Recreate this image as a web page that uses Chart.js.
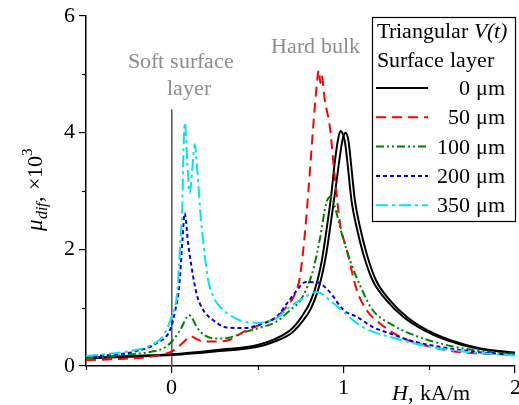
<!DOCTYPE html>
<html>
<head>
<meta charset="utf-8">
<script src="https://cdn.jsdelivr.net/npm/chart.js@4.4.1/dist/chart.umd.min.js"></script>
<style>
  @font-face { font-family: 'PlotSerif'; font-style: normal; src: local('Liberation Serif'), local('LiberationSerif'), local('Liberation Serif Regular'); }
  @font-face { font-family: 'PlotSerif'; font-style: italic; src: local('Liberation Serif Italic'), local('LiberationSerif-Italic'); }
  html, body { margin: 0; padding: 0; background: #fff; }
  #wrap { width: 519px; height: 405px; }
  .warm { font-family: 'PlotSerif', 'Liberation Serif'; position: absolute; left: -999px; top: 0; }
</style>
</head>
<body>
<span class="warm">Hard bulk μ</span><span class="warm" style="font-style:italic">V(t) H μ</span>
<div id="wrap"><canvas id="chart" width="519" height="405"></canvas></div>
<script>
// axis ticks
const xTicks = [0, 1, 2];
const xTickLabels = ['0', '1', '2'];
const xMinorTicks = [-0.5, 0.5, 1.5];
const yTicks = [0, 2, 4, 6];
const yTickLabels = ['0', '2', '4', '6'];
const yMinorTicks = [1, 3, 5];

// 0 um - two branches of the loop
const hBlackA = [-0.5, -0.25, 0, 0.25, 0.5, 0.6, 0.7, 0.76, 0.81, 0.85, 0.875, 0.9, 0.93, 0.95, 0.97, 0.983, 1.0, 1.01, 1.025, 1.047, 1.076, 1.115, 1.17, 1.25, 1.35, 1.465, 1.6, 1.78, 2.0];
const muBlackA = [0.14, 0.17, 0.2, 0.27, 0.36, 0.46, 0.64, 0.86, 1.12, 1.48, 1.82, 2.3, 2.95, 3.5, 3.9, 4.03, 3.95, 3.82, 3.45, 2.84, 2.39, 1.93, 1.47, 1.13, 0.84, 0.62, 0.445, 0.3, 0.22];
const hBlackB = [-0.5, -0.25, 0, 0.25, 0.5, 0.6, 0.7, 0.76, 0.81, 0.85, 0.875, 0.9, 0.925, 0.955, 0.975, 0.995, 1.013, 1.03, 1.045, 1.067, 1.096, 1.135, 1.19, 1.27, 1.37, 1.485, 1.62, 1.8, 2.0];
const muBlackB = [0.13, 0.16, 0.19, 0.25, 0.33, 0.42, 0.57, 0.76, 0.98, 1.28, 1.55, 1.92, 2.42, 3.05, 3.5, 3.88, 4.0, 3.85, 3.45, 2.84, 2.39, 1.93, 1.47, 1.13, 0.84, 0.62, 0.445, 0.3, 0.23];

// 50 um
const hRed = [-0.5, -0.3, -0.15, -0.05, 0, 0.05, 0.09, 0.11, 0.14, 0.18, 0.25, 0.34, 0.42, 0.51, 0.61, 0.67, 0.72, 0.745, 0.77, 0.795, 0.824, 0.84, 0.857, 0.866, 0.873, 0.892, 0.921, 0.95, 0.98, 1.02, 1.077, 1.135, 1.213, 1.33, 1.465, 1.66, 2.0];
const muRed = [0.1, 0.12, 0.15, 0.2, 0.25, 0.36, 0.47, 0.51, 0.47, 0.42, 0.42, 0.45, 0.59, 0.7, 0.84, 1.02, 1.25, 1.5, 2.1, 2.96, 4.1, 4.67, 5.07, 4.85, 4.98, 4.55, 4.1, 3.24, 2.45, 1.99, 1.31, 0.96, 0.73, 0.5, 0.36, 0.245, 0.19];

// 100 um
const hGreen = [-0.5, -0.3, -0.12, -0.05, 0, 0.05, 0.1, 0.115, 0.145, 0.19, 0.26, 0.34, 0.435, 0.53, 0.61, 0.69, 0.75, 0.79, 0.825, 0.865, 0.9, 0.925, 0.95, 0.99, 1.04, 1.1, 1.17, 1.27, 1.41, 1.56, 1.76, 2.0];
const muGreen = [0.13, 0.18, 0.245, 0.3, 0.42, 0.62, 0.87, 0.84, 0.67, 0.53, 0.47, 0.49, 0.59, 0.67, 0.76, 0.96, 1.13, 1.36, 1.66, 2.21, 2.79, 2.9, 2.73, 2.27, 1.8, 1.36, 0.96, 0.73, 0.53, 0.39, 0.27, 0.205];

// 200 um
const hBlue = [-0.5, -0.22, -0.09, -0.01, 0.02, 0.043, 0.062, 0.075, 0.095, 0.115, 0.144, 0.183, 0.24, 0.32, 0.42, 0.53, 0.61, 0.67, 0.73, 0.78, 0.85, 0.92, 1.0, 1.08, 1.17, 1.27, 1.41, 1.56, 1.76, 2.0];
const muBlue = [0.16, 0.245, 0.39, 0.62, 0.95, 1.36, 2.16, 2.62, 2.1, 1.7, 1.24, 0.96, 0.79, 0.66, 0.65, 0.73, 0.84, 1.07, 1.3, 1.44, 1.43, 1.27, 0.96, 0.84, 0.67, 0.56, 0.42, 0.33, 0.245, 0.19];

// 350 um
const hCyan = [-0.5, -0.22, -0.12, -0.047, 0, 0.031, 0.047, 0.062, 0.068, 0.076, 0.09, 0.105, 0.12, 0.134, 0.15, 0.17, 0.19, 0.21, 0.24, 0.28, 0.34, 0.42, 0.51, 0.61, 0.69, 0.77, 0.845, 0.92, 1.0, 1.08, 1.17, 1.27, 1.41, 1.56, 1.76, 2.0];
const muCyan = [0.17, 0.27, 0.36, 0.53, 0.86, 1.24, 1.99, 2.84, 3.7, 4.17, 3.5, 2.96, 3.4, 3.8, 3.3, 2.5, 1.95, 1.5, 1.2, 1.02, 0.87, 0.76, 0.74, 0.82, 1.02, 1.17, 1.27, 1.13, 0.93, 0.73, 0.59, 0.5, 0.39, 0.3, 0.23, 0.18];

// marker at H = 0
const hMarker = [0, 0];
const muMarker = [0, 4.4];

const legendLabels = ['0 μm', '50 μm', '100 μm', '200 μm', '350 μm'];

const FONT = 'PlotSerif, "Liberation Serif", serif';

function pts(xs, ys) {
    return xs.map((x, i) => ({ x: x, y: ys[i] }));
}

function series(xs, ys, color, dash, order) {
    return {
        data: pts(xs, ys),
        showLine: true,
        borderColor: color,
        backgroundColor: color,
        borderWidth: 2,
        borderDash: dash,
        pointRadius: 0,
        fill: false,
        order: order
    };
}

const datasets = [
    series(hBlackA, muBlackA, '#000000', [], 5),
    series(hRed, muRed, '#ff0000', [10, 6], 4),
    series(hGreen, muGreen, '#008000', [8, 3, 2, 3, 2, 3], 3),
    series(hBlue, muBlue, '#0000ee', [4, 3], 2),
    series(hCyan, muCyan, '#00e5ee', [12, 4, 3, 4], 1),
    series(hBlackB, muBlackB, '#000000', [], 5),
    Object.assign(series(hMarker, muMarker, '#555555', [], 6), { borderWidth: 1.5, cubicInterpolationMode: 'default' })
];

const decor = {
    id: 'decor',
    afterDraw(chart) {
        const ctx = chart.ctx;
        const xs = chart.scales.x, ys = chart.scales.y;
        const area = chart.chartArea;

        // minor ticks
        ctx.save();
        ctx.strokeStyle = '#000';
        ctx.lineWidth = 1.2;
        xMinorTicks.forEach(v => {
            const px = Math.round(xs.getPixelForValue(v)) + 0.5;
            ctx.beginPath(); ctx.moveTo(px, area.bottom); ctx.lineTo(px, area.bottom + 4); ctx.stroke();
        });
        yMinorTicks.forEach(v => {
            const py = Math.round(ys.getPixelForValue(v)) + 0.5;
            ctx.beginPath(); ctx.moveTo(area.left - 4, py); ctx.lineTo(area.left, py); ctx.stroke();
        });
        ctx.restore();

        // annotations
        ctx.save();
        ctx.fillStyle = '#8c8c8c';
        ctx.font = '22px ' + FONT;
        ctx.textAlign = 'center';
        ctx.textBaseline = 'alphabetic';
        ctx.fillText('Soft surface', 181, 68);
        ctx.fillText('layer', 189, 95);
        ctx.fillText('Hard bulk', 315, 53);
        ctx.restore();

        // legend
        ctx.save();
        ctx.fillStyle = '#fff';
        ctx.fillRect(372, 17, 143, 205);
        ctx.strokeStyle = '#000';
        ctx.lineWidth = 1.2;
        ctx.strokeRect(372.5, 17.5, 143, 204);
        ctx.fillStyle = '#000';
        ctx.textBaseline = 'alphabetic';
        ctx.textAlign = 'left';
        ctx.font = '22px ' + FONT;
        ctx.fillText('Triangular ', 377, 38);
        const w = ctx.measureText('Triangular ').width;
        ctx.font = 'italic 22px ' + FONT;
        ctx.fillText('V(t)', 377 + w, 38);
        ctx.font = '22px ' + FONT;
        ctx.fillText('Surface layer', 377, 67);
        ctx.textAlign = 'right';
        legendLabels.forEach((lab, i) => {
            const ds = datasets[i];
            const base = 95 + i * 29.3;
            ctx.save();
            ctx.strokeStyle = ds.borderColor;
            ctx.lineWidth = 2;
            ctx.setLineDash(ds.borderDash);
            ctx.beginPath(); ctx.moveTo(376, base - 7); ctx.lineTo(428, base - 7); ctx.stroke();
            ctx.restore();
            ctx.fillText(lab, 505, base);
        });
        ctx.restore();

        // y title
        ctx.save();
        ctx.translate(42, 231);
        ctx.rotate(-Math.PI / 2);
        ctx.fillStyle = '#000';
        ctx.textAlign = 'left';
        ctx.textBaseline = 'alphabetic';
        let x = 0;
        ctx.font = 'italic 23px ' + FONT;
        ctx.fillText('μ', x, 0); x += ctx.measureText('μ').width;
        ctx.font = 'italic 16px ' + FONT;
        ctx.fillText('dif', x, 5); x += ctx.measureText('dif').width + 1;
        ctx.font = '22px ' + FONT;
        ctx.fillText(', ×10', x, 0); x += ctx.measureText(', ×10').width;
        ctx.font = '15px ' + FONT;
        ctx.fillText('3', x, -10);
        ctx.restore();

        // x title
        ctx.save();
        ctx.fillStyle = '#000';
        ctx.textAlign = 'left';
        ctx.textBaseline = 'alphabetic';
        ctx.font = 'italic 22px ' + FONT;
        ctx.fillText('H', 392, 400);
        const hw = ctx.measureText('H').width;
        ctx.font = '22px ' + FONT;
        ctx.fillText(', kA/m', 392 + hw, 400);
        ctx.restore();
    }
};

Chart.defaults.color = '#000';

function draw() {
    new Chart(document.getElementById('chart'), {
        type: 'scatter',
        data: { datasets: datasets },
        options: {
            responsive: false,
            animation: false,
            layout: { padding: { left: 0, right: 4, top: 16, bottom: 0 } },
            plugins: { legend: { display: false }, tooltip: { enabled: false } },
            elements: { line: { cubicInterpolationMode: 'monotone', tension: 0 } },
            scales: {
                x: {
                    type: 'linear',
                    min: -0.5,
                    max: 2,
                    afterBuildTicks: s => { s.ticks = xTicks.map(v => ({ value: v })); },
                    afterFit: s => { s.height = 39; s.paddingLeft = 0; s.paddingRight = 0; },
                    grid: { drawOnChartArea: false, drawTicks: true, tickLength: 7, color: '#000', lineWidth: 1.2 },
                    border: { display: true, color: '#000', width: 1.5 },
                    ticks: {
                        padding: 2,
                        maxRotation: 0,
                        autoSkip: false,
                        font: { family: FONT, size: 22 },
                        callback: v => xTickLabels[xTicks.indexOf(v)]
                    }
                },
                y: {
                    type: 'linear',
                    min: 0,
                    max: 6,
                    afterBuildTicks: s => { s.ticks = yTicks.map(v => ({ value: v })); },
                    afterFit: s => { s.width = 86; s.paddingTop = 0; s.paddingBottom = 0; },
                    grid: { drawOnChartArea: false, drawTicks: true, tickLength: 7, color: '#000', lineWidth: 1.2 },
                    border: { display: true, color: '#000', width: 1.5 },
                    ticks: {
                        padding: 4,
                        autoSkip: false,
                        font: { family: FONT, size: 22 },
                        callback: v => yTickLabels[yTicks.indexOf(v)]
                    }
                }
            }
        },
        plugins: [decor]
    });
}

Promise.all([
    document.fonts.load('22px PlotSerif'),
    document.fonts.load('italic 22px PlotSerif')
]).then(() => document.fonts.ready).then(draw, draw);
</script>
</body>
</html>
